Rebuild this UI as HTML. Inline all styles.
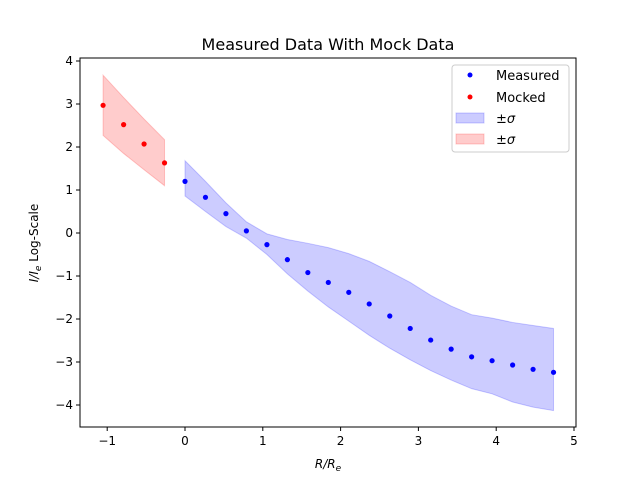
<!DOCTYPE html>
<html><head><meta charset="utf-8"><style>
body{margin:0;background:#fff;}
svg text{font-family:"DejaVu Sans","Liberation Sans",sans-serif;}
</style></head><body>
<svg id="c" width="640" height="480" xmlns="http://www.w3.org/2000/svg">
<rect width="640" height="480" fill="#fff"/>
<text x="328" y="50" font-size="16" text-anchor="middle">Measured Data With Mock Data</text>
<g id="plot"></g>
<rect x="80" y="58" width="496" height="369" fill="none" stroke="#000" stroke-width="1"/>
<g id="axes"></g>
<text x="328" y="468" font-size="12" text-anchor="middle" font-style="italic">R/R<tspan font-size="9" dy="3">e</tspan></text>
<text transform="translate(38,243) rotate(-90)" font-size="12" text-anchor="middle"><tspan font-style="italic">I/I</tspan><tspan font-size="9" dy="3" font-style="italic">e</tspan><tspan dy="-3"> Log-Scale</tspan></text>
<g>
<rect x="452" y="65" width="117" height="87" rx="3" fill="#fff" fill-opacity="0.8" stroke="#ccc"/>
<circle cx="470" cy="75" r="2.5" fill="#0000ff"/>
<text x="496" y="80" font-size="13">Measured</text>
<circle cx="470" cy="97" r="2.5" fill="#ff0000"/>
<text x="496" y="102" font-size="13">Mocked</text>
<rect x="456" y="113" width="28" height="10" fill="#0000ff" fill-opacity="0.2" stroke="#0000ff" stroke-opacity="0.2"/>
<text x="496" y="123" font-size="13">±<tspan font-style="italic">σ</tspan></text>
<rect x="456" y="134" width="28" height="10" fill="#ff0000" fill-opacity="0.2" stroke="#ff0000" stroke-opacity="0.2"/>
<text x="496" y="144" font-size="13">±<tspan font-style="italic">σ</tspan></text>
</g>
</svg>
<script>
const measX=[0,0.263,0.526,0.789,1.053,1.316,1.579,1.842,2.105,2.368,2.632,2.895,3.158,3.421,3.684,3.947,4.211,4.474,4.737];
const measY=[1.2,0.83,0.45,0.05,-0.27,-0.62,-0.92,-1.15,-1.38,-1.65,-1.93,-2.22,-2.49,-2.7,-2.88,-2.97,-3.07,-3.17,-3.24];
const measUpper=[1.68,1.2,0.7,0.26,-0.02,-0.15,-0.24,-0.34,-0.48,-0.66,-0.9,-1.15,-1.45,-1.7,-1.9,-1.98,-2.08,-2.15,-2.22];
const measLower=[0.86,0.5,0.15,-0.12,-0.5,-0.95,-1.35,-1.72,-2.05,-2.38,-2.68,-2.95,-3.2,-3.42,-3.62,-3.74,-3.93,-4.05,-4.13];
const mockX=[-1.053,-0.789,-0.526,-0.263];
const mockY=[2.97,2.52,2.07,1.63];
const mockUpper=[3.67,3.15,2.65,2.17];
const mockLower=[2.27,1.85,1.47,1.1];
const xTicks=[-1,0,1,2,3,4,5];
const yTicks=[-4,-3,-2,-1,0,1,2,3,4];
const NS="http://www.w3.org/2000/svg";
const sx=v=>185+v*77.8;
const sy=v=>233-v*43;
const plot=document.getElementById('plot'),axes=document.getElementById('axes');
function mk(tag,attrs,parent){const e=document.createElementNS(NS,tag);for(const k in attrs)e.setAttribute(k,attrs[k]);parent.appendChild(e);return e;}
function band(xs,up,lo,color,name){
  let pts=xs.map((x,i)=>sx(x)+','+sy(up[i]));
  for(let i=xs.length-1;i>=0;i--)pts.push(sx(xs[i])+','+sy(lo[i]));
  const p=mk('polygon',{points:pts.join(' '),fill:color,'fill-opacity':0.2,stroke:color,'stroke-opacity':0.2},plot);
  
  
}
band(measX,measUpper,measLower,'#0000ff','measured-sigma-band');
band(mockX,mockUpper,mockLower,'#ff0000','mocked-sigma-band');
measX.forEach((x,i)=>{const c=mk('circle',{cx:sx(x),cy:sy(measY[i]),r:2.6,fill:'#0000ff'},plot);
  
  });
mockX.forEach((x,i)=>{const c=mk('circle',{cx:sx(x),cy:sy(mockY[i]),r:2.6,fill:'#ff0000'},plot);
  
  });
xTicks.forEach(t=>{const x=sx(t);mk('line',{x1:x,x2:x,y1:427,y2:431,stroke:'#000'},axes);
  const tx=mk('text',{x:x,y:445,'font-size':12,'text-anchor':'middle'},axes);tx.textContent=t<0?'\u2212'+(-t):t;
  
  });
yTicks.forEach(t=>{const y=sy(t);mk('line',{x1:76,x2:80,y1:y,y2:y,stroke:'#000'},axes);
  const tx=mk('text',{x:73,y:y+4,'font-size':12,'text-anchor':'end'},axes);tx.textContent=t<0?'\u2212'+(-t):t;
  
  });
</script>
</body></html>
